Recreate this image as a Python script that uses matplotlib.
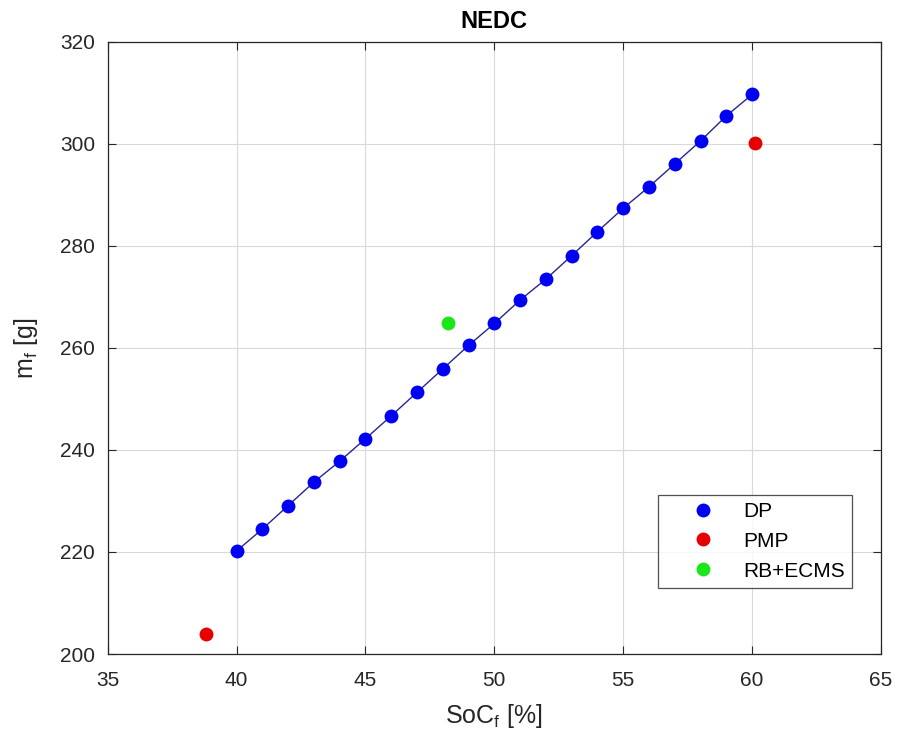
import matplotlib
matplotlib.use("Agg")
import matplotlib.pyplot as plt

plt.rcParams['font.family'] = ['Liberation Sans', 'DejaVu Sans']

dp_soc = [40, 41, 42, 43, 44, 45, 46, 47, 48, 49, 50, 51, 52, 53, 54, 55, 56, 57, 58, 59, 60]
dp_mf = [220.2, 224.5, 229.1, 233.7, 237.8, 242.2, 246.7, 251.3, 255.9, 260.5, 264.8,
         269.4, 273.5, 278.1, 282.8, 287.4, 291.6, 296.1, 300.6, 305.5, 309.7]
pmp_soc = [38.8, 60.1]
pmp_mf = [203.9, 300.1]
rb_soc = [48.2]
rb_mf = [264.8]

xticks = [35, 40, 45, 50, 55, 60, 65]
yticks = [200, 220, 240, 260, 280, 300, 320]

dark = (0.15, 0.15, 0.15)

fig = plt.figure(figsize=(9.02, 7.36), dpi=100)
ax = fig.add_axes([0.1194, 0.1114, 0.8573, 0.8316])

ax.plot(dp_soc, dp_mf, '-', color=(0.15, 0.15, 0.55), lw=1.0, zorder=2)
ax.plot(dp_soc, dp_mf, 'o', color=(0, 0, 0.95), ms=10, mec='none', label='DP', zorder=3)
ax.plot(pmp_soc, pmp_mf, 'o', color=(0.9, 0, 0), ms=10, mec='none', label='PMP', zorder=3)
ax.plot(rb_soc, rb_mf, 'o', color=(0.1, 0.9, 0.1), ms=10, mec='none', label='RB+ECMS', zorder=3)

ax.set_xlim(35, 65)
ax.set_ylim(200, 320)
ax.set_xticks(xticks)
ax.set_yticks(yticks)
ax.grid(True, color=(0.85, 0.85, 0.85), lw=0.8)
ax.set_axisbelow(True)
for s in ax.spines.values():
    s.set_color(dark)
    s.set_linewidth(0.9)
ax.tick_params(direction='in', length=6, color=dark,
               labelsize=15, labelcolor=dark, top=True, right=True,
               labeltop=False, labelright=False)
ax.tick_params(axis='x', pad=12)
ax.tick_params(axis='y', pad=9)

ax.set_xlabel(r'SoC$_{\mathregular{f}}$ [%]', fontsize=18, color=dark)
ax.set_ylabel(r'm$_{\mathregular{f}}$ [g]', fontsize=18, color=dark)
ax.xaxis.set_label_coords(0.5, -0.078)
ax.yaxis.set_label_coords(-0.088, 0.5)
ax.set_title('NEDC', fontsize=17, fontweight='bold', pad=10)

leg = ax.legend(loc='lower right', bbox_to_anchor=(0.963, 0.108), fontsize=15,
                frameon=True, fancybox=False, edgecolor=dark, borderaxespad=0,
                handletextpad=0.15, borderpad=0.35, labelspacing=0.52, handlelength=3.6)
leg.get_frame().set_linewidth(0.9)

fig.savefig('out.png', dpi=100)
